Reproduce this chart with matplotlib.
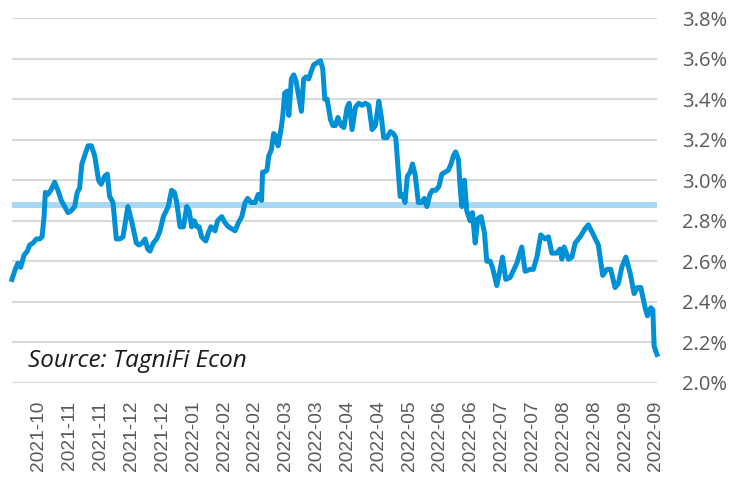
import numpy as np
import matplotlib
matplotlib.use('Agg')
import matplotlib.pyplot as plt
from matplotlib.ticker import FuncFormatter

# trading-day position (0 = first day) and value in %
day = [0.0, 1.3, 2.3, 3.4, 4.7, 6.0, 6.9, 8.2, 9.5, 10.8, 11.7, 12.5, 13.0, 14.0, 15.1,
       16.6, 17.9, 19.2, 20.5, 21.8, 23.1, 24.4, 25.4, 26.3, 27.2, 28.5, 29.6, 30.9, 32.2,
       33.7, 34.7, 36.1, 37.1, 38.0, 39.3, 40.6, 41.9, 43.2, 45.1, 46.7, 48.4, 49.4, 50.7,
       51.8, 52.8, 53.7, 55.0, 56.3, 57.6, 58.9, 60.8, 62.1, 63.2, 64.1, 65.4, 66.7, 68.0,
       68.9, 69.9, 70.9, 71.9, 72.8, 73.8, 75.4, 76.4, 77.4, 79.0, 80.0, 81.6, 82.9, 84.2,
       85.5, 86.8, 88.1, 89.4, 90.7, 91.7, 93.0, 94.6, 95.8, 97.1, 97.5, 98.3, 99.2, 99.9,
       100.9, 101.8, 102.7, 103.5, 104.4, 105.3, 106.1, 107.0, 107.7, 108.7, 109.6, 110.5,
       111.6, 112.6, 113.5, 114.4, 115.4, 116.5, 117.4, 118.7, 120.0, 120.9, 121.7, 122.6,
       123.9, 124.8, 125.8, 126.8, 128.1, 129.1, 130.4, 131.2, 132.3, 133.6, 134.9, 136.2,
       137.5, 138.8, 140.1, 141.4, 142.7, 143.7, 144.6, 145.9, 147.2, 148.4, 149.3, 150.1,
       151.0, 151.9, 152.9, 153.8, 154.9, 155.8, 156.8, 158.1, 159.4, 160.4, 161.4, 162.6,
       163.5, 164.9, 166.1, 167.2, 168.5, 169.8, 170.8, 171.7, 172.6, 173.7, 174.3, 175.0,
       176.0, 176.9, 178.2, 179.1, 180.2, 181.2, 182.5, 183.8, 184.7, 186.0, 186.9, 188.6,
       189.9, 190.8, 192.1, 193.8, 196.4, 198.3, 199.6, 201.6, 202.8, 204.2, 205.7, 207.4,
       208.7, 210.0, 211.9, 213.2, 213.9, 214.8, 216.5, 217.8, 219.1, 221.0, 222.9, 224.2,
       226.2, 228.1, 229.8, 231.4, 232.9, 234.6, 235.9, 237.2, 238.8, 240.5, 242.0, 243.3,
       244.6, 246.3, 247.2, 248.5, 249.3, 249.8, 250.9]
rate = [2.51, 2.56, 2.59, 2.57, 2.63, 2.65, 2.68, 2.69, 2.71, 2.71, 2.72, 2.82, 2.94, 2.93, 2.95,
        2.99, 2.95, 2.90, 2.87, 2.84, 2.85, 2.87, 2.94, 2.96, 3.08, 3.13, 3.17, 3.17, 3.12,
        3.00, 2.98, 3.02, 3.03, 2.92, 2.89, 2.71, 2.71, 2.72, 2.87, 2.79, 2.69, 2.68, 2.69,
        2.71, 2.66, 2.65, 2.69, 2.71, 2.75, 2.82, 2.87, 2.95, 2.94, 2.89, 2.77, 2.77, 2.87,
        2.85, 2.77, 2.80, 2.77, 2.77, 2.72, 2.70, 2.74, 2.77, 2.75, 2.80, 2.82, 2.79, 2.77,
        2.76, 2.75, 2.79, 2.82, 2.89, 2.91, 2.89, 2.89, 2.93, 2.90, 3.04, 3.04, 3.05, 3.12,
        3.15, 3.23, 3.22, 3.17, 3.23, 3.31, 3.43, 3.44, 3.32, 3.50, 3.52, 3.49,
        3.41, 3.34, 3.50, 3.51, 3.50, 3.54, 3.57, 3.58, 3.59, 3.55, 3.40, 3.40,
        3.30, 3.27, 3.27, 3.31, 3.27, 3.26, 3.36, 3.38, 3.25, 3.36, 3.38, 3.37,
        3.38, 3.37, 3.25, 3.27, 3.39, 3.31, 3.21, 3.21, 3.24, 3.23, 3.21, 3.07,
        2.92, 2.93, 2.89, 3.02, 3.04, 3.08, 3.03, 2.89, 2.89, 2.91, 2.87, 2.93,
        2.95, 2.95, 2.97, 3.03, 3.04, 3.05, 3.08, 3.12, 3.14, 3.10, 2.97, 2.87,
        3.00, 2.85, 2.80, 2.84, 2.69, 2.81, 2.82, 2.74, 2.60, 2.60, 2.57, 2.48,
        2.56, 2.62, 2.51, 2.52, 2.59, 2.67, 2.55, 2.56, 2.56, 2.62, 2.73, 2.71,
        2.72, 2.64, 2.64, 2.66, 2.61, 2.67, 2.61, 2.62, 2.69, 2.72, 2.76, 2.78,
        2.73, 2.68, 2.53, 2.56, 2.56, 2.47, 2.49, 2.57, 2.62, 2.54, 2.44, 2.47,
        2.47, 2.37, 2.33, 2.37, 2.36, 2.18, 2.14]
average = 2.88

tick_labels = ['2021-10', '2021-11', '2021-11', '2021-12', '2021-12', '2022-01', '2022-02',
               '2022-02', '2022-03', '2022-03', '2022-04', '2022-04', '2022-05', '2022-06',
               '2022-06', '2022-07', '2022-07', '2022-08', '2022-08', '2022-09', '2022-09']
tick_pos = [10.5 + 12 * i for i in range(len(tick_labels))]
y_ticks = [2.0, 2.2, 2.4, 2.6, 2.8, 3.0, 3.2, 3.4, 3.6, 3.8]

fig = plt.figure(figsize=(7.46, 4.79), dpi=100)
ax = fig.add_axes([0.016, 0.201, 0.865, 0.761])

for y in y_ticks:
    ax.axhline(y, color='#d9d9d9', lw=1.5, zorder=1)
ax.axhline(average, color='#a9d8f2', lw=4.3, zorder=2)
ax.plot(day, rate, color='#0090d6', lw=3.6, solid_joinstyle='round', zorder=3, clip_on=False)

ax.set_xlim(0, 251)
ax.set_ylim(2.0, 3.8)
ax.set_yticks(y_ticks)
ax.yaxis.set_major_formatter(FuncFormatter(lambda v, p: '%.1f%%' % v))
ax.yaxis.tick_right()
ax.tick_params(axis='y', length=0, pad=18, labelsize=14.5, labelcolor='#595959')
for t in ax.get_yticklabels():
    t.set_family('Open Sans')
ax.set_xticks(tick_pos)
ax.set_xticklabels(tick_labels, rotation=90, fontsize=13.8, color='#595959',
                   family='Liberation Sans')
ax.tick_params(axis='x', length=0, pad=13)
for s in ax.spines.values():
    s.set_visible(False)

ax.text(0.025, 0.06, 'Source: TagniFi Econ', transform=ax.transAxes, fontsize=17.5,
        style='italic', family='Open Sans', color='#1a1a1a', va='center', ha='left')

plt.savefig('out.png', dpi=100)
